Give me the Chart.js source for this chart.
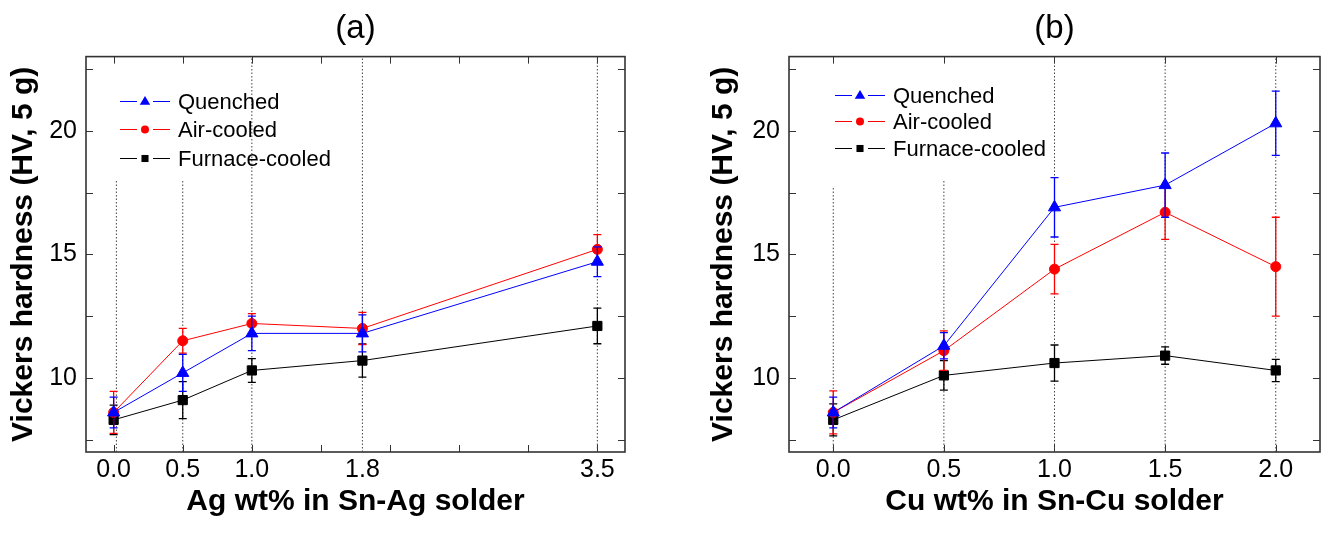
<!DOCTYPE html>
<html>
<head>
<meta charset="utf-8">
<script src="https://cdn.jsdelivr.net/npm/chart.js@4.4.0/dist/chart.umd.min.js"></script>
<style>
  body { margin: 0; background: #fff; }
  #wrap { position: relative; width: 1328px; height: 548px; }
  .panel { position: absolute; top: 0; width: 664px; height: 548px; }
</style>
</head>
<body>
<div id="wrap">
  <div class="panel" style="left:0"><canvas id="chartA" width="664" height="548"></canvas></div>
  <div class="panel" style="left:664px"><canvas id="chartB" width="664" height="548"></canvas></div>
</div>
<script>
const SERIES_NAMES = ['Quenched', 'Air-cooled', 'Furnace-cooled'];
const SERIES_COLORS = ['#0000ff', '#ff0000', '#000000'];
const SERIES_MARKERS = ['triangle', 'circle', 'rect'];

// shared y axis
const Y_MIN = 7;
const Y_MAX = 23;
const yTickMarks = [7.5, 10, 12.5, 15, 17.5, 20, 22.5];
const yTickLabels = [10, 15, 20];

// (a) Sn-Ag solder
const agX = [0, 0.5, 1.0, 1.8, 3.5];
const agQuenched = [8.6, 10.2, 11.8, 11.8, 14.7];
const agQuenchedErr = [0.62, 0.75, 0.7, 0.75, 0.6];
const agAir = [8.6, 11.5, 12.2, 12.0, 15.2];
const agAirErr = [0.85, 0.5, 0.4, 0.65, 0.6];
const agFurnace = [8.3, 9.1, 10.3, 10.7, 12.1];
const agFurnaceErr = [0.6, 0.75, 0.48, 0.67, 0.72];
const agTickMarks = [0, 0.5, 1, 1.5, 2, 2.5, 3, 3.5];
const agTickLabels = [0, 0.5, 1.0, 1.8, 3.5];
const agGuideX = [0.02, 0.5, 1.0, 1.8, 3.5];
const agGuideTop = [18, 18, 23, 23, 23];

// (b) Sn-Cu solder
const cuX = [0, 0.5, 1.0, 1.5, 2.0];
const cuQuenched = [8.6, 11.3, 16.9, 17.8, 20.3];
const cuQuenchedErr = [0.62, 0.53, 1.2, 1.3, 1.3];
const cuAir = [8.6, 11.1, 14.4, 16.7, 14.5];
const cuAirErr = [0.87, 0.8, 1.0, 1.1, 2.0];
const cuFurnace = [8.3, 10.1, 10.6, 10.9, 10.3];
const cuFurnaceErr = [0.65, 0.6, 0.73, 0.35, 0.45];
const cuTickMarks = [0, 0.5, 1, 1.5, 2];
const cuTickLabels = [0, 0.5, 1.0, 1.5, 2.0];
const cuGuideX = [0, 0.5, 1.0, 1.5, 2.0];
const cuGuideTop = [17.7, 18, 23, 23, 23];

const FONT = '"Liberation Sans", Arial, sans-serif';
Chart.defaults.font.family = FONT;
Chart.defaults.color = '#000';

const MARKER_RADIUS = [7, 5, 6.5];
const LEGEND_RADIUS = [5.5, 4, 5];

// small marker drawer for the in-plot legend
function drawMarker(ctx, style, r, x, y) {
  ctx.beginPath();
  if (style === 'triangle') {
    ctx.moveTo(x, y - r);
    ctx.lineTo(x + r * 0.95, y + r * 0.6);
    ctx.lineTo(x - r * 0.95, y + r * 0.6);
    ctx.closePath();
  } else if (style === 'circle') {
    ctx.arc(x, y, r, 0, Math.PI * 2);
  } else {
    const s = r * Math.SQRT1_2;
    ctx.rect(x - s, y - s, 2 * s, 2 * s);
  }
  ctx.fill();
}

// box around the plot with inward ticks on all four sides
const framePlugin = {
  id: 'frame',
  beforeDatasetsDraw(chart, args, opts) {
    const { ctx, chartArea: a, scales: { x, y } } = chart;
    ctx.save();
    ctx.strokeStyle = '#333';
    ctx.lineWidth = 1;
    ctx.beginPath();
    opts.xMarks.forEach(v => {
      const px = Math.round(x.getPixelForValue(v)) + 0.5;
      ctx.moveTo(px, a.bottom); ctx.lineTo(px, a.bottom - opts.len);
      ctx.moveTo(px, a.top); ctx.lineTo(px, a.top + opts.len);
    });
    opts.yMarks.forEach(v => {
      const py = Math.round(y.getPixelForValue(v)) + 0.5;
      ctx.moveTo(a.left, py); ctx.lineTo(a.left + opts.len, py);
      ctx.moveTo(a.right, py); ctx.lineTo(a.right - opts.len, py);
    });
    ctx.stroke();
    ctx.lineWidth = 1.6;
    ctx.strokeRect(a.left, a.top, a.right - a.left, a.bottom - a.top);
    ctx.restore();
  }
};

// vertical error bars with caps, drawn just under each series
const errorBarPlugin = {
  id: 'errorBars',
  beforeDatasetDraw(chart, args) {
    const ds = chart.data.datasets[args.index];
    if (!ds.errors) return;
    const { ctx, scales: { x, y } } = chart;
    ctx.save();
    ctx.strokeStyle = ds.borderColor;
    ctx.lineWidth = 1.3;
    ctx.beginPath();
    ds.data.forEach((p, i) => {
      const px = x.getPixelForValue(p.x);
      const top = y.getPixelForValue(p.y + ds.errors[i]);
      const bot = y.getPixelForValue(p.y - ds.errors[i]);
      ctx.moveTo(px, top); ctx.lineTo(px, bot);
      ctx.moveTo(px - 4, top); ctx.lineTo(px + 4, top);
      ctx.moveTo(px - 4, bot); ctx.lineTo(px + 4, bot);
    });
    ctx.stroke();
    ctx.restore();
  }
};

// legend drawn inside the plot area: line - marker - line, then the name
const insideLegendPlugin = {
  id: 'insideLegend',
  afterDatasetsDraw(chart, args, opts) {
    const { ctx, chartArea: a } = chart;
    const series = chart.data.datasets.filter(d => d.errors);
    ctx.save();
    ctx.font = '22px ' + FONT;
    ctx.textBaseline = 'middle';
    series.forEach((ds, i) => {
      const x0 = a.left + opts.x;
      const yy = Math.round(a.top + opts.y + i * opts.gap) + 0.5;
      ctx.strokeStyle = ds.borderColor;
      ctx.lineWidth = 1;
      ctx.beginPath();
      ctx.moveTo(x0, yy); ctx.lineTo(x0 + 17, yy);
      ctx.moveTo(x0 + 33, yy); ctx.lineTo(x0 + 50, yy);
      ctx.stroke();
      ctx.fillStyle = ds.backgroundColor;
      drawMarker(ctx, ds.pointStyle, ds.legendRadius, x0 + 25, yy);
      ctx.fillStyle = '#000';
      ctx.fillText(ds.label, x0 + 58, yy + 1);
    });
    ctx.restore();
  }
};

function buildChart(id, p) {
  const datasets = [];
  p.series.forEach((vals, k) => {
    datasets.push({
      label: SERIES_NAMES[k],
      data: p.x.map((v, i) => ({ x: v, y: vals[i] })),
      errors: p.errors[k],
      showLine: true,
      borderColor: SERIES_COLORS[k],
      backgroundColor: SERIES_COLORS[k],
      borderWidth: 1,
      pointStyle: SERIES_MARKERS[k],
      pointRadius: MARKER_RADIUS[k],
      pointBorderWidth: 1,
      legendRadius: LEGEND_RADIUS[k],
      order: k
    });
  });
  // dotted guide lines
  p.guideX.forEach((gx, i) => {
    datasets.push({
      label: 'guide',
      data: [{ x: gx, y: Y_MIN }, { x: gx, y: p.guideTop[i] }],
      showLine: true,
      borderColor: '#444',
      borderWidth: 1,
      borderDash: [1.5, 2],
      pointRadius: 0,
      order: 10
    });
  });

  return new Chart(document.getElementById(id), {
    type: 'scatter',
    data: { datasets },
    options: {
      responsive: false,
      animation: false,
      layout: { padding: { left: 0, right: p.padRight, top: 0, bottom: 0 } },
      plugins: {
        legend: { display: false },
        tooltip: { enabled: false },
        title: {
          display: true,
          text: p.title,
          fullSize: false,
          color: '#000',
          font: { size: 33, weight: 'normal' },
          padding: { top: 9, bottom: 8 }
        },
        frame: { xMarks: p.tickMarks, yMarks: yTickMarks, len: 7 },
        insideLegend: p.legend
      },
      scales: {
        x: {
          type: 'linear',
          min: p.xMin,
          max: p.xMax,
          afterFit: s => { s.height = 96; },
          afterBuildTicks: s => { s.ticks = p.tickLabels.map(v => ({ value: v })); },
          grid: { display: false, drawTicks: false },
          border: { display: false },
          ticks: {
            padding: 3,
            color: '#000',
            font: { size: 25 },
            maxRotation: 0,
            autoSkip: false,
            callback: v => Number(v).toFixed(1)
          },
          title: {
            display: true,
            text: p.xTitle,
            color: '#000',
            font: { size: 30, weight: 'bold' },
            padding: { top: 0, bottom: 28 }
          }
        },
        y: {
          type: 'linear',
          min: Y_MIN,
          max: Y_MAX,
          afterFit: s => { s.width = p.yAxisWidth; },
          afterBuildTicks: s => { s.ticks = yTickLabels.map(v => ({ value: v })); },
          grid: { display: false, drawTicks: false },
          border: { display: false },
          ticks: {
            padding: 9,
            color: '#000',
            font: { size: 25 },
            callback: v => String(v)
          },
          title: {
            display: true,
            text: 'Vickers hardness (HV, 5 g)',
            color: '#000',
            font: { size: 30, weight: 'bold' },
            padding: { top: p.yTitleOffset, bottom: 0 }
          }
        }
      }
    },
    plugins: [framePlugin, errorBarPlugin, insideLegendPlugin]
  });
}

buildChart('chartA', {
  title: '(a)',
  xTitle: 'Ag wt% in Sn-Ag solder',
  x: agX,
  series: [agQuenched, agAir, agFurnace],
  errors: [agQuenchedErr, agAirErr, agFurnaceErr],
  tickMarks: agTickMarks,
  tickLabels: agTickLabels,
  guideX: agGuideX,
  guideTop: agGuideTop,
  xMin: -0.2,
  xMax: 3.7,
  yAxisWidth: 86,
  padRight: 39,
  yTitleOffset: 6,
  legend: { x: 34, y: 44, gap: 28.5 }
});

buildChart('chartB', {
  title: '(b)',
  xTitle: 'Cu wt% in Sn-Cu solder',
  x: cuX,
  series: [cuQuenched, cuAir, cuFurnace],
  errors: [cuQuenchedErr, cuAirErr, cuFurnaceErr],
  tickMarks: cuTickMarks,
  tickLabels: cuTickLabels,
  guideX: cuGuideX,
  guideTop: cuGuideTop,
  xMin: -0.2,
  xMax: 2.2,
  yAxisWidth: 125,
  padRight: 5,
  yTitleOffset: 42,
  legend: { x: 46, y: 38, gap: 26.5 }
});
</script>
</body>
</html>
